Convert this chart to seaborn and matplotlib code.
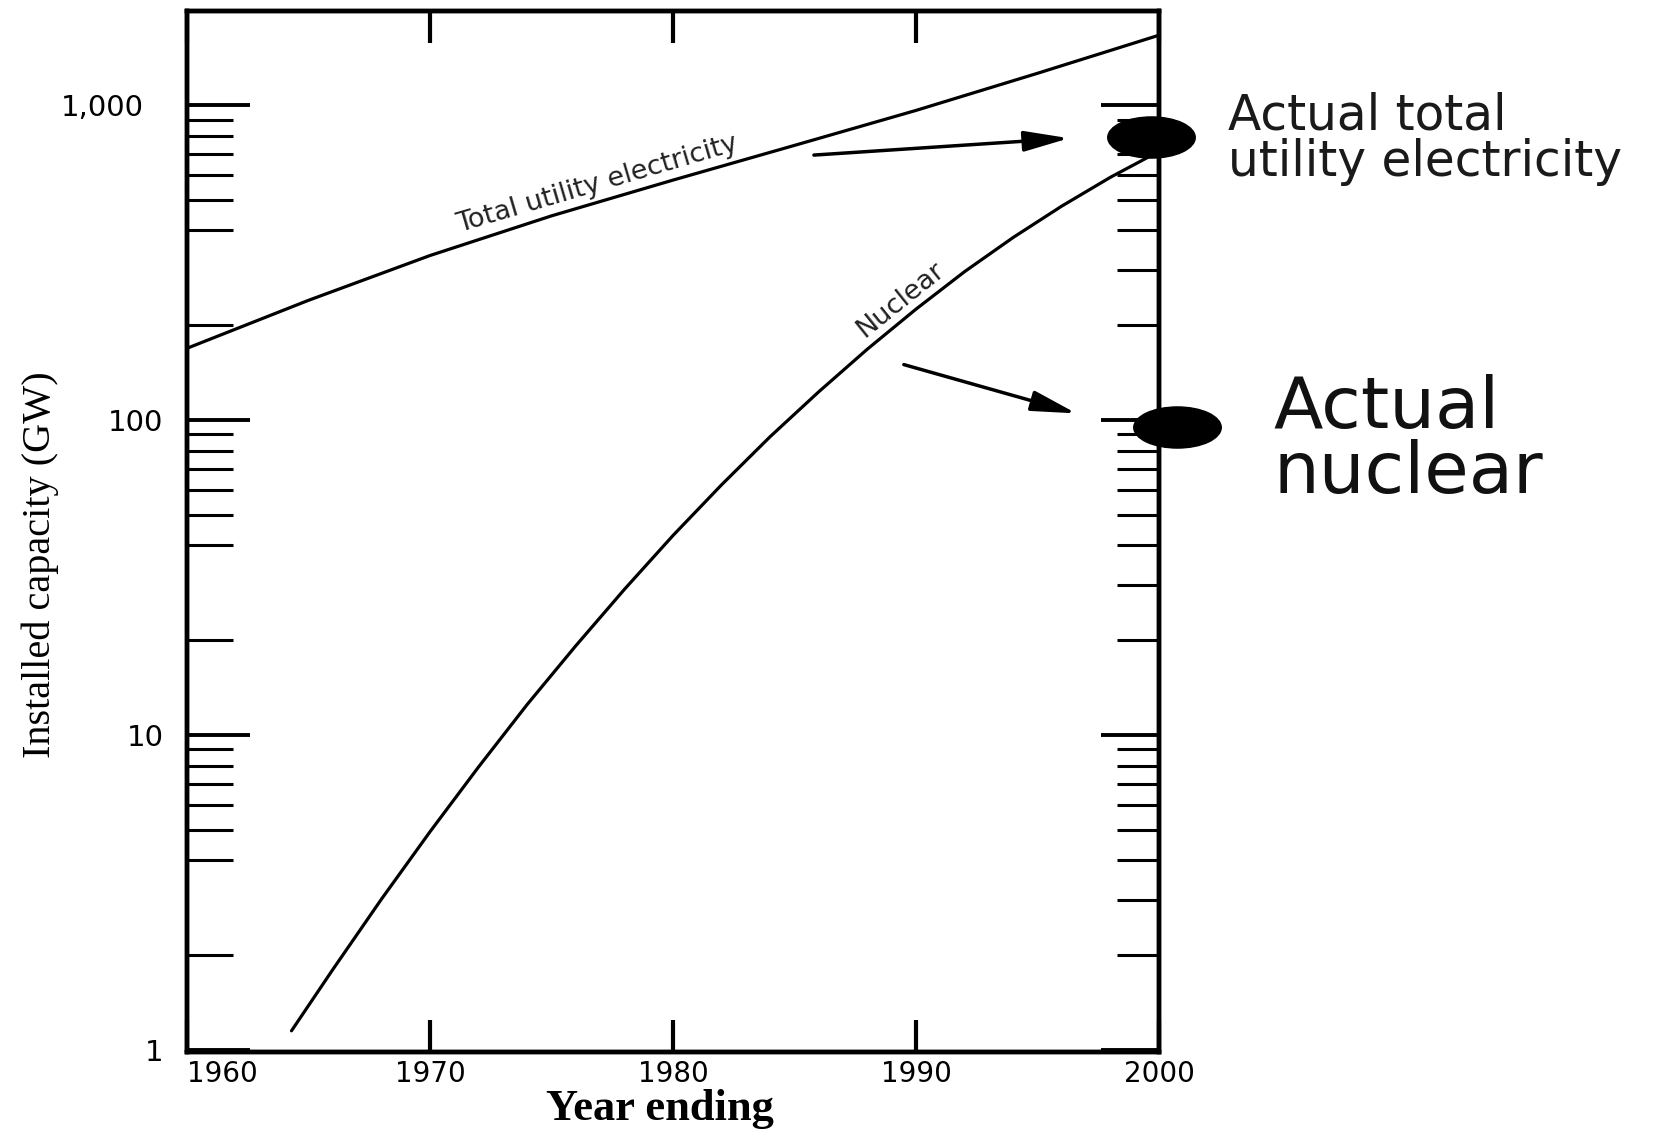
import numpy as np
import matplotlib
matplotlib.use("Agg")
import matplotlib.pyplot as plt
import seaborn as sns
from matplotlib.path import Path
from matplotlib.transforms import ScaledTranslation
from matplotlib.ticker import FixedLocator, NullFormatter

# Values
total_years = [1960, 1965, 1970, 1975, 1980, 1985, 1990, 1995, 2000]
total_gw = [169, 240, 333, 445, 578, 745, 962, 1262, 1667]

nuclear_years = [1964.3, 1966, 1968, 1970, 1972, 1974, 1976, 1978, 1980, 1982,
                 1984, 1986, 1988, 1990, 1992, 1994, 1996, 1998, 2000]
nuclear_gw = [1.15, 1.80, 3.01, 4.93, 7.92, 12.5, 19.2, 29.0, 43.0, 62.3,
              88.6, 123, 168, 225, 296, 380, 478, 590, 713]

actual_labels = ["Actual total\nutility electricity", "Actual\nnuclear"]
actual_gw = [790, 95]
actual_year = 2000

x_ticks = [1960, 1970, 1980, 1990, 2000]
x_tick_labels = ["1960", "1970", "1980", "1990", "2000"]
y_ticks = [1, 10, 100, 1000]
y_tick_labels = ["1", "10", "100", "1,000"]

sns.set_theme(style="white")
plt.rcParams['font.family'] = ['DejaVu Sans']

W, H = 1678, 1130
fig = plt.figure(figsize=(W / 100, H / 100), dpi=100)
ax = fig.add_axes([187 / W, 1 - 1052 / H, (1159 - 187) / W, (1052 - 11) / H])

# -----------------------
# Curves
# -----------------------
sns.lineplot(x=total_years, y=total_gw, ax=ax, color="black", lw=2.3)
sns.lineplot(x=nuclear_years, y=nuclear_gw, ax=ax, color="black", lw=2.3)
ax.set_yscale("log")
ax.set_xlim(1960, 2000)
ax.set_ylim(0.985, 1990)

# -----------------------
# Axes, ticks
# -----------------------
for s in ax.spines.values():
    s.set_linewidth(3.2)
    s.set_color("black")

ax.set_xticks(x_ticks)
ax.set_xticklabels(x_tick_labels)
ax.tick_params(axis="x", direction="in", length=23, width=3, top=True, bottom=True,
               labelsize=20, pad=6, colors="black")
plt.setp(ax.get_xticklabels()[0], ha="left")

minor_left = [m * 10 ** e for e in range(0, 3) for m in (2, 4, 5, 6, 7, 8, 9)]
minor_right = [m * 10 ** e for e in range(0, 3) for m in range(2, 10)]

ax.yaxis.set_major_locator(FixedLocator(y_ticks))
ax.set_yticklabels(y_tick_labels)
ax.yaxis.set_minor_locator(FixedLocator(minor_left))
ax.yaxis.set_minor_formatter(NullFormatter())
ax.tick_params(axis="y", which="major", direction="in", length=45, width=2.8,
               left=True, right=False, labelsize=21, pad=17, colors="black")
ax.tick_params(axis="y", which="minor", direction="in", length=33, width=2.2,
               left=True, right=False, colors="black")
top_lbl = ax.get_yticklabels()[-1]
top_lbl.set_transform(top_lbl.get_transform() + ScaledTranslation(-0.2, 0, fig.dpi_scale_trans))

ax2 = ax.twinx()
ax2.set_yscale("log")
ax2.set_ylim(ax.get_ylim())
ax2.yaxis.set_major_locator(FixedLocator(y_ticks))
ax2.yaxis.set_minor_locator(FixedLocator(minor_right))
ax2.yaxis.set_major_formatter(NullFormatter())
ax2.yaxis.set_minor_formatter(NullFormatter())
ax2.tick_params(axis="y", which="major", direction="in", length=42, width=2.8, right=True, colors="black")
ax2.tick_params(axis="y", which="minor", direction="in", length=30, width=2.2, right=True, colors="black")
for s in ax2.spines.values():
    s.set_linewidth(3.2)
    s.set_color("black")

ax.set_xlabel("Year ending", fontfamily="Liberation Serif", fontweight="bold", fontsize=32, color="black")
ax.xaxis.set_label_coords(0.487, -0.0355)
ax.set_ylabel("Installed capacity (GW)", fontfamily="Liberation Serif", fontsize=29, color="black")
ax.yaxis.set_label_coords(-0.132, 0.468)


# -----------------------
# Labels along the curves
# -----------------------
def line_label(xs, ys, x0, text, offset=7):
    ly = np.log10(ys)
    y0 = 10 ** np.interp(x0, xs, ly)
    p1 = ax.transData.transform((x0 - 0.7, 10 ** np.interp(x0 - 0.7, xs, ly)))
    p2 = ax.transData.transform((x0 + 0.7, 10 ** np.interp(x0 + 0.7, xs, ly)))
    ang = np.degrees(np.arctan2(p2[1] - p1[1], p2[0] - p1[0]))
    th = np.radians(ang)
    ax.annotate(text, (x0, y0), xytext=(-np.sin(th) * offset, np.cos(th) * offset),
                textcoords="offset points", rotation=ang, rotation_mode="anchor",
                ha="center", va="baseline", fontsize=19.5, color="#222222")


line_label(total_years, total_gw, 1977.1, "Total utility electricity")
line_label(nuclear_years, nuclear_gw, 1989.8, "Nuclear")

# -----------------------
# Actual values (black ellipses) and arrows
# -----------------------
circ = Path.unit_circle()
ellipse = Path(circ.vertices * np.array([1.0, 0.47]), circ.codes)
for val, dx in zip(actual_gw, [-8, 18]):
    tr = ax.transData + ScaledTranslation(dx / 100, 0, fig.dpi_scale_trans)
    ax.plot([actual_year], [val], marker=ellipse, ms=63, color="black", ls="none",
            transform=tr, clip_on=False, zorder=5)

arrow = dict(arrowstyle="-|>,head_length=1.1,head_width=0.25", mutation_scale=25,
             lw=2.5, color="black", shrinkA=0, shrinkB=0)
ax.annotate("", xy=(1996.3, 785), xytext=(1985.8, 694), arrowprops=arrow)
ax.annotate("", xy=(1996.6, 105), xytext=(1989.5, 150), arrowprops=arrow)

fig.text(1228 / W, 1 - 91 / H, actual_labels[0], fontsize=35, ha="left", va="top",
         linespacing=0.98, color="#1a1a1a")
fig.text(1273 / W, 1 - 374 / H, actual_labels[1], fontsize=52, ha="left", va="top",
         linespacing=0.93, color="#111111")

fig.savefig("out.png", dpi=100, facecolor="white")
